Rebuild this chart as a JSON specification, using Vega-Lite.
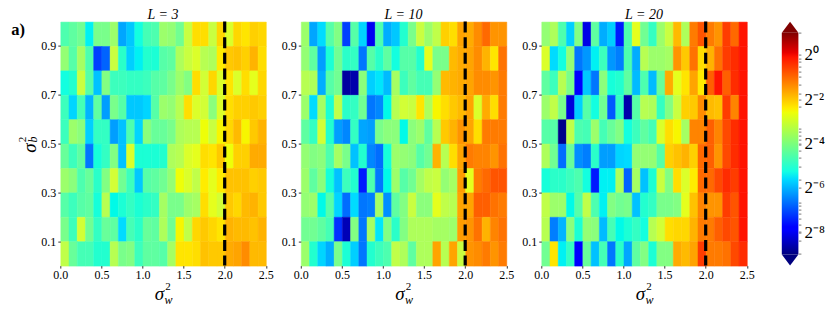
{"$schema":"https://vega.github.io/schema/vega-lite/v6.json","bounds":"flush","spacing":34.5,"padding":{"left":10.3,"top":7.6,"right":40,"bottom":0},"background":"white","config":{"view":{"stroke":null},"font":"Liberation Serif","axis":{"labelFont":"Liberation Serif","titleFont":"Liberation Serif","labelFontSize":12,"labelColor":"#000","tickColor":"#333","tickSize":2.5,"grid":false,"domain":false,"labelFlush":false,"titleFontSize":19,"titleFontStyle":"italic","titleFontWeight":"normal","titleColor":"#000"},"title":{"font":"Liberation Serif","fontSize":14,"fontWeight":"normal","fontStyle":"italic","color":"#000","offset":-2}},"datasets":{"l3":[
{"sw":0.05,"sb":0.95,"v":-4.4},{"sw":0.15,"sb":0.95,"v":-4.2},{"sw":0.25,"sb":0.95,"v":-4},{"sw":0.35,"sb":0.95,"v":-5.4},{"sw":0.45,"sb":0.95,"v":-3.9},{"sw":0.55,"sb":0.95,"v":-3.9},{"sw":0.65,"sb":0.95,"v":-3.5},{"sw":0.75,"sb":0.95,"v":-6.4},{"sw":0.85,"sb":0.95,"v":-5.9},{"sw":0.95,"sb":0.95,"v":-5.2},{"sw":1.05,"sb":0.95,"v":-4.5},{"sw":1.15,"sb":0.95,"v":-4.4},{"sw":1.25,"sb":0.95,"v":-3.5},{"sw":1.35,"sb":0.95,"v":-3.6},{"sw":1.45,"sb":0.95,"v":-4},{"sw":1.55,"sb":0.95,"v":-3},{"sw":1.65,"sb":0.95,"v":-2.2},{"sw":1.75,"sb":0.95,"v":-2.2},{"sw":1.85,"sb":0.95,"v":-3},{"sw":1.95,"sb":0.95,"v":-2.1},{"sw":2.05,"sb":0.95,"v":-2.8},{"sw":2.15,"sb":0.95,"v":-2.1},{"sw":2.25,"sb":0.95,"v":-2.3},{"sw":2.35,"sb":0.95,"v":-2},{"sw":2.45,"sb":0.95,"v":-2.1},
{"sw":0.05,"sb":0.85,"v":-3.6},{"sw":0.15,"sb":0.85,"v":-4.3},{"sw":0.25,"sb":0.85,"v":-3.4},{"sw":0.35,"sb":0.85,"v":-4.4},{"sw":0.45,"sb":0.85,"v":-7.5},{"sw":0.55,"sb":0.85,"v":-7.2},{"sw":0.65,"sb":0.85,"v":-3},{"sw":0.75,"sb":0.85,"v":-4.8},{"sw":0.85,"sb":0.85,"v":-5.8},{"sw":0.95,"sb":0.85,"v":-5.4},{"sw":1.05,"sb":0.85,"v":-4.9},{"sw":1.15,"sb":0.85,"v":-5},{"sw":1.25,"sb":0.85,"v":-4.3},{"sw":1.35,"sb":0.85,"v":-4.2},{"sw":1.45,"sb":0.85,"v":-3.3},{"sw":1.55,"sb":0.85,"v":-3},{"sw":1.65,"sb":0.85,"v":-2.8},{"sw":1.75,"sb":0.85,"v":-3.2},{"sw":1.85,"sb":0.85,"v":-3.3},{"sw":1.95,"sb":0.85,"v":-2.4},{"sw":2.05,"sb":0.85,"v":-1.9},{"sw":2.15,"sb":0.85,"v":-1.8},{"sw":2.25,"sb":0.85,"v":-2},{"sw":2.35,"sb":0.85,"v":-1.6},{"sw":2.45,"sb":0.85,"v":-2.2},
{"sw":0.05,"sb":0.75,"v":-5.2},{"sw":0.15,"sb":0.75,"v":-4.9},{"sw":0.25,"sb":0.75,"v":-3},{"sw":0.35,"sb":0.75,"v":-4.3},{"sw":0.45,"sb":0.75,"v":-6},{"sw":0.55,"sb":0.75,"v":-3.8},{"sw":0.65,"sb":0.75,"v":-4.6},{"sw":0.75,"sb":0.75,"v":-4.6},{"sw":0.85,"sb":0.75,"v":-4.7},{"sw":0.95,"sb":0.75,"v":-4.7},{"sw":1.05,"sb":0.75,"v":-4.6},{"sw":1.15,"sb":0.75,"v":-4.3},{"sw":1.25,"sb":0.75,"v":-4.2},{"sw":1.35,"sb":0.75,"v":-3.9},{"sw":1.45,"sb":0.75,"v":-3.5},{"sw":1.55,"sb":0.75,"v":-3.8},{"sw":1.65,"sb":0.75,"v":-2.2},{"sw":1.75,"sb":0.75,"v":-2.9},{"sw":1.85,"sb":0.75,"v":-2.1},{"sw":1.95,"sb":0.75,"v":-2.8},{"sw":2.05,"sb":0.75,"v":-2.3},{"sw":2.15,"sb":0.75,"v":-2.8},{"sw":2.25,"sb":0.75,"v":-2.2},{"sw":2.35,"sb":0.75,"v":-2.7},{"sw":2.45,"sb":0.75,"v":-2.1},
{"sw":0.05,"sb":0.65,"v":-4.6},{"sw":0.15,"sb":0.65,"v":-5.7},{"sw":0.25,"sb":0.65,"v":-4.5},{"sw":0.35,"sb":0.65,"v":-6.2},{"sw":0.45,"sb":0.65,"v":-4.2},{"sw":0.55,"sb":0.65,"v":-6.5},{"sw":0.65,"sb":0.65,"v":-3.9},{"sw":0.75,"sb":0.65,"v":-4.3},{"sw":0.85,"sb":0.65,"v":-5.9},{"sw":0.95,"sb":0.65,"v":-5.9},{"sw":1.05,"sb":0.65,"v":-5.7},{"sw":1.15,"sb":0.65,"v":-4.3},{"sw":1.25,"sb":0.65,"v":-3.5},{"sw":1.35,"sb":0.65,"v":-3.6},{"sw":1.45,"sb":0.65,"v":-3.2},{"sw":1.55,"sb":0.65,"v":-2.2},{"sw":1.65,"sb":0.65,"v":-2.8},{"sw":1.75,"sb":0.65,"v":-2.9},{"sw":1.85,"sb":0.65,"v":-3.7},{"sw":1.95,"sb":0.65,"v":-2.8},{"sw":2.05,"sb":0.65,"v":-2.2},{"sw":2.15,"sb":0.65,"v":-2},{"sw":2.25,"sb":0.65,"v":-2},{"sw":2.35,"sb":0.65,"v":-1.9},{"sw":2.45,"sb":0.65,"v":-2},
{"sw":0.05,"sb":0.55,"v":-4.6},{"sw":0.15,"sb":0.55,"v":-3.5},{"sw":0.25,"sb":0.55,"v":-3.7},{"sw":0.35,"sb":0.55,"v":-5.8},{"sw":0.45,"sb":0.55,"v":-4.7},{"sw":0.55,"sb":0.55,"v":-4.7},{"sw":0.65,"sb":0.55,"v":-6.5},{"sw":0.75,"sb":0.55,"v":-6},{"sw":0.85,"sb":0.55,"v":-4.4},{"sw":0.95,"sb":0.55,"v":-5.7},{"sw":1.05,"sb":0.55,"v":-3.7},{"sw":1.15,"sb":0.55,"v":-4.1},{"sw":1.25,"sb":0.55,"v":-4.1},{"sw":1.35,"sb":0.55,"v":-3.9},{"sw":1.45,"sb":0.55,"v":-3.3},{"sw":1.55,"sb":0.55,"v":-3.2},{"sw":1.65,"sb":0.55,"v":-3.2},{"sw":1.75,"sb":0.55,"v":-2.6},{"sw":1.85,"sb":0.55,"v":-3},{"sw":1.95,"sb":0.55,"v":-2.5},{"sw":2.05,"sb":0.55,"v":-2.1},{"sw":2.15,"sb":0.55,"v":-1.7},{"sw":2.25,"sb":0.55,"v":-2.5},{"sw":2.35,"sb":0.55,"v":-1.9},{"sw":2.45,"sb":0.55,"v":-1.6},
{"sw":0.05,"sb":0.45,"v":-4.1},{"sw":0.15,"sb":0.45,"v":-4.6},{"sw":0.25,"sb":0.45,"v":-4.2},{"sw":0.35,"sb":0.45,"v":-7},{"sw":0.45,"sb":0.45,"v":-5.1},{"sw":0.55,"sb":0.45,"v":-4.7},{"sw":0.65,"sb":0.45,"v":-3.8},{"sw":0.75,"sb":0.45,"v":-6},{"sw":0.85,"sb":0.45,"v":-2.8},{"sw":0.95,"sb":0.45,"v":-5},{"sw":1.05,"sb":0.45,"v":-5},{"sw":1.15,"sb":0.45,"v":-5},{"sw":1.25,"sb":0.45,"v":-4.9},{"sw":1.35,"sb":0.45,"v":-3.3},{"sw":1.45,"sb":0.45,"v":-3.2},{"sw":1.55,"sb":0.45,"v":-2.8},{"sw":1.65,"sb":0.45,"v":-2.7},{"sw":1.75,"sb":0.45,"v":-2.2},{"sw":1.85,"sb":0.45,"v":-2.3},{"sw":1.95,"sb":0.45,"v":-1.9},{"sw":2.05,"sb":0.45,"v":-2.6},{"sw":2.15,"sb":0.45,"v":-2},{"sw":2.25,"sb":0.45,"v":-2},{"sw":2.35,"sb":0.45,"v":-1.5},{"sw":2.45,"sb":0.45,"v":-1.5},
{"sw":0.05,"sb":0.35,"v":-3.5},{"sw":0.15,"sb":0.35,"v":-3.7},{"sw":0.25,"sb":0.35,"v":-4.4},{"sw":0.35,"sb":0.35,"v":-4.1},{"sw":0.45,"sb":0.35,"v":-4.8},{"sw":0.55,"sb":0.35,"v":-3.8},{"sw":0.65,"sb":0.35,"v":-2.9},{"sw":0.75,"sb":0.35,"v":-4},{"sw":0.85,"sb":0.35,"v":-4.6},{"sw":0.95,"sb":0.35,"v":-5.9},{"sw":1.05,"sb":0.35,"v":-4.3},{"sw":1.15,"sb":0.35,"v":-4.2},{"sw":1.25,"sb":0.35,"v":-4},{"sw":1.35,"sb":0.35,"v":-3.6},{"sw":1.45,"sb":0.35,"v":-2.6},{"sw":1.55,"sb":0.35,"v":-2.8},{"sw":1.65,"sb":0.35,"v":-3.1},{"sw":1.75,"sb":0.35,"v":-2.4},{"sw":1.85,"sb":0.35,"v":-2.7},{"sw":1.95,"sb":0.35,"v":-2.4},{"sw":2.05,"sb":0.35,"v":-1.8},{"sw":2.15,"sb":0.35,"v":-1.8},{"sw":2.25,"sb":0.35,"v":-1.8},{"sw":2.35,"sb":0.35,"v":-2},{"sw":2.45,"sb":0.35,"v":-1.9},
{"sw":0.05,"sb":0.25,"v":-4.3},{"sw":0.15,"sb":0.25,"v":-4.6},{"sw":0.25,"sb":0.25,"v":-4.3},{"sw":0.35,"sb":0.25,"v":-4.2},{"sw":0.45,"sb":0.25,"v":-5.1},{"sw":0.55,"sb":0.25,"v":-3.2},{"sw":0.65,"sb":0.25,"v":-5.3},{"sw":0.75,"sb":0.25,"v":-5},{"sw":0.85,"sb":0.25,"v":-4.7},{"sw":0.95,"sb":0.25,"v":-5},{"sw":1.05,"sb":0.25,"v":-4.8},{"sw":1.15,"sb":0.25,"v":-4.7},{"sw":1.25,"sb":0.25,"v":-3.4},{"sw":1.35,"sb":0.25,"v":-3.9},{"sw":1.45,"sb":0.25,"v":-3.9},{"sw":1.55,"sb":0.25,"v":-3.5},{"sw":1.65,"sb":0.25,"v":-3.4},{"sw":1.75,"sb":0.25,"v":-2.2},{"sw":1.85,"sb":0.25,"v":-2.7},{"sw":1.95,"sb":0.25,"v":-2.9},{"sw":2.05,"sb":0.25,"v":-1.9},{"sw":2.15,"sb":0.25,"v":-2.1},{"sw":2.25,"sb":0.25,"v":-1.7},{"sw":2.35,"sb":0.25,"v":-1.6},{"sw":2.45,"sb":0.25,"v":-1.9},
{"sw":0.05,"sb":0.15,"v":-3.9},{"sw":0.15,"sb":0.15,"v":-4.6},{"sw":0.25,"sb":0.15,"v":-2.9},{"sw":0.35,"sb":0.15,"v":-4},{"sw":0.45,"sb":0.15,"v":-4.7},{"sw":0.55,"sb":0.15,"v":-4.1},{"sw":0.65,"sb":0.15,"v":-4.2},{"sw":0.75,"sb":0.15,"v":-5.6},{"sw":0.85,"sb":0.15,"v":-4.5},{"sw":0.95,"sb":0.15,"v":-4.8},{"sw":1.05,"sb":0.15,"v":-4.1},{"sw":1.15,"sb":0.15,"v":-4.2},{"sw":1.25,"sb":0.15,"v":-3.3},{"sw":1.35,"sb":0.15,"v":-4},{"sw":1.45,"sb":0.15,"v":-2.5},{"sw":1.55,"sb":0.15,"v":-3.1},{"sw":1.65,"sb":0.15,"v":-2.1},{"sw":1.75,"sb":0.15,"v":-1.9},{"sw":1.85,"sb":0.15,"v":-2.1},{"sw":1.95,"sb":0.15,"v":-2.3},{"sw":2.05,"sb":0.15,"v":-1.6},{"sw":2.15,"sb":0.15,"v":-1.7},{"sw":2.25,"sb":0.15,"v":-1.7},{"sw":2.35,"sb":0.15,"v":-1.8},{"sw":2.45,"sb":0.15,"v":-1.6},
{"sw":0.05,"sb":0.05,"v":-3.1},{"sw":0.15,"sb":0.05,"v":-4.1},{"sw":0.25,"sb":0.05,"v":-4.5},{"sw":0.35,"sb":0.05,"v":-4.5},{"sw":0.45,"sb":0.05,"v":-4.9},{"sw":0.55,"sb":0.05,"v":-4.9},{"sw":0.65,"sb":0.05,"v":-3.2},{"sw":0.75,"sb":0.05,"v":-3.9},{"sw":0.85,"sb":0.05,"v":-3.8},{"sw":0.95,"sb":0.05,"v":-4.6},{"sw":1.05,"sb":0.05,"v":-4.2},{"sw":1.15,"sb":0.05,"v":-4.2},{"sw":1.25,"sb":0.05,"v":-4.3},{"sw":1.35,"sb":0.05,"v":-3.4},{"sw":1.45,"sb":0.05,"v":-2.3},{"sw":1.55,"sb":0.05,"v":-2.3},{"sw":1.65,"sb":0.05,"v":-2.2},{"sw":1.75,"sb":0.05,"v":-1.8},{"sw":1.85,"sb":0.05,"v":-1.9},{"sw":1.95,"sb":0.05,"v":-1.9},{"sw":2.05,"sb":0.05,"v":-1.5},{"sw":2.15,"sb":0.05,"v":-1.4},{"sw":2.25,"sb":0.05,"v":-1.1},{"sw":2.35,"sb":0.05,"v":-1.7},{"sw":2.45,"sb":0.05,"v":-1.7}
],"l10":[
{"sw":0.05,"sb":0.95,"v":-3.5},{"sw":0.15,"sb":0.95,"v":-6.4},{"sw":0.25,"sb":0.95,"v":-5.6},{"sw":0.35,"sb":0.95,"v":-4.3},{"sw":0.45,"sb":0.95,"v":-3.8},{"sw":0.55,"sb":0.95,"v":-7.5},{"sw":0.65,"sb":0.95,"v":-4.3},{"sw":0.75,"sb":0.95,"v":-5.7},{"sw":0.85,"sb":0.95,"v":-8},{"sw":0.95,"sb":0.95,"v":-4.4},{"sw":1.05,"sb":0.95,"v":-6.3},{"sw":1.15,"sb":0.95,"v":-5.9},{"sw":1.25,"sb":0.95,"v":-4.9},{"sw":1.35,"sb":0.95,"v":-3.9},{"sw":1.45,"sb":0.95,"v":-3},{"sw":1.55,"sb":0.95,"v":-3.5},{"sw":1.65,"sb":0.95,"v":-3.1},{"sw":1.75,"sb":0.95,"v":-2},{"sw":1.85,"sb":0.95,"v":-2.2},{"sw":1.95,"sb":0.95,"v":-1.4},{"sw":2.05,"sb":0.95,"v":-1.5},{"sw":2.15,"sb":0.95,"v":-1.1},{"sw":2.25,"sb":0.95,"v":-0.7},{"sw":2.35,"sb":0.95,"v":-1.2},{"sw":2.45,"sb":0.95,"v":-1.2},
{"sw":0.05,"sb":0.85,"v":-3.6},{"sw":0.15,"sb":0.85,"v":-4.2},{"sw":0.25,"sb":0.85,"v":-6.5},{"sw":0.35,"sb":0.85,"v":-5},{"sw":0.45,"sb":0.85,"v":-4},{"sw":0.55,"sb":0.85,"v":-4.8},{"sw":0.65,"sb":0.85,"v":-4.7},{"sw":0.75,"sb":0.85,"v":-7},{"sw":0.85,"sb":0.85,"v":-4.3},{"sw":0.95,"sb":0.85,"v":-4.8},{"sw":1.05,"sb":0.85,"v":-4.2},{"sw":1.15,"sb":0.85,"v":-5.2},{"sw":1.25,"sb":0.85,"v":-4.3},{"sw":1.35,"sb":0.85,"v":-4.3},{"sw":1.45,"sb":0.85,"v":-4.9},{"sw":1.55,"sb":0.85,"v":-2.7},{"sw":1.65,"sb":0.85,"v":-3.9},{"sw":1.75,"sb":0.85,"v":-3.9},{"sw":1.85,"sb":0.85,"v":-1.7},{"sw":1.95,"sb":0.85,"v":-1.5},{"sw":2.05,"sb":0.85,"v":-1.4},{"sw":2.15,"sb":0.85,"v":-1.1},{"sw":2.25,"sb":0.85,"v":-1.6},{"sw":2.35,"sb":0.85,"v":-2.3},{"sw":2.45,"sb":0.85,"v":-0.8},
{"sw":0.05,"sb":0.75,"v":-3.2},{"sw":0.15,"sb":0.75,"v":-3.3},{"sw":0.25,"sb":0.75,"v":-6.3},{"sw":0.35,"sb":0.75,"v":-4.3},{"sw":0.45,"sb":0.75,"v":-4},{"sw":0.55,"sb":0.75,"v":-8.7},{"sw":0.65,"sb":0.75,"v":-8.6},{"sw":0.75,"sb":0.75,"v":-3.7},{"sw":0.85,"sb":0.75,"v":-5.8},{"sw":0.95,"sb":0.75,"v":-5.5},{"sw":1.05,"sb":0.75,"v":-6.1},{"sw":1.15,"sb":0.75,"v":-3.4},{"sw":1.25,"sb":0.75,"v":-4.6},{"sw":1.35,"sb":0.75,"v":-4.2},{"sw":1.45,"sb":0.75,"v":-4.5},{"sw":1.55,"sb":0.75,"v":-4.5},{"sw":1.65,"sb":0.75,"v":-3.6},{"sw":1.75,"sb":0.75,"v":-1.7},{"sw":1.85,"sb":0.75,"v":-1.6},{"sw":1.95,"sb":0.75,"v":-1.5},{"sw":2.05,"sb":0.75,"v":-1.4},{"sw":2.15,"sb":0.75,"v":-1.1},{"sw":2.25,"sb":0.75,"v":-1.1},{"sw":2.35,"sb":0.75,"v":-1.2},{"sw":2.45,"sb":0.75,"v":-0.9},
{"sw":0.05,"sb":0.65,"v":-3.5},{"sw":0.15,"sb":0.65,"v":-5.6},{"sw":0.25,"sb":0.65,"v":-3.4},{"sw":0.35,"sb":0.65,"v":-5},{"sw":0.45,"sb":0.65,"v":-3.1},{"sw":0.55,"sb":0.65,"v":-4.8},{"sw":0.65,"sb":0.65,"v":-4.7},{"sw":0.75,"sb":0.65,"v":-4},{"sw":0.85,"sb":0.65,"v":-7},{"sw":0.95,"sb":0.65,"v":-6.8},{"sw":1.05,"sb":0.65,"v":-5.3},{"sw":1.15,"sb":0.65,"v":-3.2},{"sw":1.25,"sb":0.65,"v":-2.9},{"sw":1.35,"sb":0.65,"v":-3},{"sw":1.45,"sb":0.65,"v":-2.3},{"sw":1.55,"sb":0.65,"v":-3.3},{"sw":1.65,"sb":0.65,"v":-2.5},{"sw":1.75,"sb":0.65,"v":-2.2},{"sw":1.85,"sb":0.65,"v":-1.9},{"sw":1.95,"sb":0.65,"v":-1.7},{"sw":2.05,"sb":0.65,"v":-1.4},{"sw":2.15,"sb":0.65,"v":-2.8},{"sw":2.25,"sb":0.65,"v":-1.5},{"sw":2.35,"sb":0.65,"v":-2.2},{"sw":2.45,"sb":0.65,"v":-0.9},
{"sw":0.05,"sb":0.55,"v":-4.2},{"sw":0.15,"sb":0.55,"v":-4.7},{"sw":0.25,"sb":0.55,"v":-2.9},{"sw":0.35,"sb":0.55,"v":-4.9},{"sw":0.45,"sb":0.55,"v":-6.5},{"sw":0.55,"sb":0.55,"v":-6.8},{"sw":0.65,"sb":0.55,"v":-4.7},{"sw":0.75,"sb":0.55,"v":-6.4},{"sw":0.85,"sb":0.55,"v":-6.5},{"sw":0.95,"sb":0.55,"v":-3.9},{"sw":1.05,"sb":0.55,"v":-3.7},{"sw":1.15,"sb":0.55,"v":-3.7},{"sw":1.25,"sb":0.55,"v":-5.3},{"sw":1.35,"sb":0.55,"v":-3.7},{"sw":1.45,"sb":0.55,"v":-3.5},{"sw":1.55,"sb":0.55,"v":-4.2},{"sw":1.65,"sb":0.55,"v":-3.2},{"sw":1.75,"sb":0.55,"v":-1.9},{"sw":1.85,"sb":0.55,"v":-1.6},{"sw":1.95,"sb":0.55,"v":-1.2},{"sw":2.05,"sb":0.55,"v":-1.4},{"sw":2.15,"sb":0.55,"v":-2.2},{"sw":2.25,"sb":0.55,"v":-0.9},{"sw":2.35,"sb":0.55,"v":-0.9},{"sw":2.45,"sb":0.55,"v":-0.9},
{"sw":0.05,"sb":0.45,"v":-3.6},{"sw":0.15,"sb":0.45,"v":-3.8},{"sw":0.25,"sb":0.45,"v":-3.7},{"sw":0.35,"sb":0.45,"v":-4.4},{"sw":0.45,"sb":0.45,"v":-3.4},{"sw":0.55,"sb":0.45,"v":-3.9},{"sw":0.65,"sb":0.45,"v":-6},{"sw":0.75,"sb":0.45,"v":-4.9},{"sw":0.85,"sb":0.45,"v":-6.8},{"sw":0.95,"sb":0.45,"v":-7.1},{"sw":1.05,"sb":0.45,"v":-5.1},{"sw":1.15,"sb":0.45,"v":-3.5},{"sw":1.25,"sb":0.45,"v":-3.6},{"sw":1.35,"sb":0.45,"v":-3.7},{"sw":1.45,"sb":0.45,"v":-4.3},{"sw":1.55,"sb":0.45,"v":-4},{"sw":1.65,"sb":0.45,"v":-1.6},{"sw":1.75,"sb":0.45,"v":-3.2},{"sw":1.85,"sb":0.45,"v":-2.2},{"sw":1.95,"sb":0.45,"v":-1.4},{"sw":2.05,"sb":0.45,"v":-0.9},{"sw":2.15,"sb":0.45,"v":-1},{"sw":2.25,"sb":0.45,"v":-1},{"sw":2.35,"sb":0.45,"v":-1.2},{"sw":2.45,"sb":0.45,"v":-0.8},
{"sw":0.05,"sb":0.35,"v":-3.5},{"sw":0.15,"sb":0.35,"v":-4.2},{"sw":0.25,"sb":0.35,"v":-3.7},{"sw":0.35,"sb":0.35,"v":-5.1},{"sw":0.45,"sb":0.35,"v":-6},{"sw":0.55,"sb":0.35,"v":-4.6},{"sw":0.65,"sb":0.35,"v":-4.9},{"sw":0.75,"sb":0.35,"v":-7.7},{"sw":0.85,"sb":0.35,"v":-4.4},{"sw":0.95,"sb":0.35,"v":-7},{"sw":1.05,"sb":0.35,"v":-5.3},{"sw":1.15,"sb":0.35,"v":-3.5},{"sw":1.25,"sb":0.35,"v":-4.3},{"sw":1.35,"sb":0.35,"v":-4},{"sw":1.45,"sb":0.35,"v":-3.4},{"sw":1.55,"sb":0.35,"v":-3.1},{"sw":1.65,"sb":0.35,"v":-3},{"sw":1.75,"sb":0.35,"v":-3.6},{"sw":1.85,"sb":0.35,"v":-3.4},{"sw":1.95,"sb":0.35,"v":-1.3},{"sw":2.05,"sb":0.35,"v":-2.7},{"sw":2.15,"sb":0.35,"v":-0.9},{"sw":2.25,"sb":0.35,"v":-0.7},{"sw":2.35,"sb":0.35,"v":-0.5},{"sw":2.45,"sb":0.35,"v":-0.5},
{"sw":0.05,"sb":0.25,"v":-3.6},{"sw":0.15,"sb":0.25,"v":-3.5},{"sw":0.25,"sb":0.25,"v":-5.3},{"sw":0.35,"sb":0.25,"v":-4.3},{"sw":0.45,"sb":0.25,"v":-5.7},{"sw":0.55,"sb":0.25,"v":-7.1},{"sw":0.65,"sb":0.25,"v":-5.6},{"sw":0.75,"sb":0.25,"v":-7},{"sw":0.85,"sb":0.25,"v":-6.9},{"sw":0.95,"sb":0.25,"v":-3.4},{"sw":1.05,"sb":0.25,"v":-6.7},{"sw":1.15,"sb":0.25,"v":-4.2},{"sw":1.25,"sb":0.25,"v":-3.8},{"sw":1.35,"sb":0.25,"v":-3},{"sw":1.45,"sb":0.25,"v":-3.7},{"sw":1.55,"sb":0.25,"v":-3.7},{"sw":1.65,"sb":0.25,"v":-2.7},{"sw":1.75,"sb":0.25,"v":-3.1},{"sw":1.85,"sb":0.25,"v":-3.2},{"sw":1.95,"sb":0.25,"v":-1.4},{"sw":2.05,"sb":0.25,"v":-1.4},{"sw":2.15,"sb":0.25,"v":-0.6},{"sw":2.25,"sb":0.25,"v":-0.6},{"sw":2.35,"sb":0.25,"v":-0.8},{"sw":2.45,"sb":0.25,"v":-0.9},
{"sw":0.05,"sb":0.15,"v":-4},{"sw":0.15,"sb":0.15,"v":-4},{"sw":0.25,"sb":0.15,"v":-4.2},{"sw":0.35,"sb":0.15,"v":-4.5},{"sw":0.45,"sb":0.15,"v":-7.6},{"sw":0.55,"sb":0.15,"v":-8.5},{"sw":0.65,"sb":0.15,"v":-3.8},{"sw":0.75,"sb":0.15,"v":-7},{"sw":0.85,"sb":0.15,"v":-3.4},{"sw":0.95,"sb":0.15,"v":-5.5},{"sw":1.05,"sb":0.15,"v":-3.8},{"sw":1.15,"sb":0.15,"v":-4.8},{"sw":1.25,"sb":0.15,"v":-3.8},{"sw":1.35,"sb":0.15,"v":-3.3},{"sw":1.45,"sb":0.15,"v":-3.3},{"sw":1.55,"sb":0.15,"v":-3.3},{"sw":1.65,"sb":0.15,"v":-3.4},{"sw":1.75,"sb":0.15,"v":-3.4},{"sw":1.85,"sb":0.15,"v":-3.5},{"sw":1.95,"sb":0.15,"v":-1.3},{"sw":2.05,"sb":0.15,"v":-1.2},{"sw":2.15,"sb":0.15,"v":-0.8},{"sw":2.25,"sb":0.15,"v":-1.6},{"sw":2.35,"sb":0.15,"v":-1},{"sw":2.45,"sb":0.15,"v":-0.8},
{"sw":0.05,"sb":0.05,"v":-3.5},{"sw":0.15,"sb":0.05,"v":-4.9},{"sw":0.25,"sb":0.05,"v":-5.7},{"sw":0.35,"sb":0.05,"v":-6.3},{"sw":0.45,"sb":0.05,"v":-3.9},{"sw":0.55,"sb":0.05,"v":-5},{"sw":0.65,"sb":0.05,"v":-5.8},{"sw":0.75,"sb":0.05,"v":-7},{"sw":0.85,"sb":0.05,"v":-4.9},{"sw":0.95,"sb":0.05,"v":-4.6},{"sw":1.05,"sb":0.05,"v":-4.4},{"sw":1.15,"sb":0.05,"v":-3.1},{"sw":1.25,"sb":0.05,"v":-3.3},{"sw":1.35,"sb":0.05,"v":-4.2},{"sw":1.45,"sb":0.05,"v":-3.3},{"sw":1.55,"sb":0.05,"v":-3.3},{"sw":1.65,"sb":0.05,"v":-1.4},{"sw":1.75,"sb":0.05,"v":-3.2},{"sw":1.85,"sb":0.05,"v":-1.4},{"sw":1.95,"sb":0.05,"v":-3},{"sw":2.05,"sb":0.05,"v":-1.2},{"sw":2.15,"sb":0.05,"v":-1.1},{"sw":2.25,"sb":0.05,"v":-0.9},{"sw":2.35,"sb":0.05,"v":-1.2},{"sw":2.45,"sb":0.05,"v":-0.9}
],"l20":[
{"sw":0.05,"sb":0.95,"v":-3.6},{"sw":0.15,"sb":0.95,"v":-3.3},{"sw":0.25,"sb":0.95,"v":-4.4},{"sw":0.35,"sb":0.95,"v":-5.8},{"sw":0.45,"sb":0.95,"v":-3.8},{"sw":0.55,"sb":0.95,"v":-8.1},{"sw":0.65,"sb":0.95,"v":-4.2},{"sw":0.75,"sb":0.95,"v":-6.3},{"sw":0.85,"sb":0.95,"v":-5.8},{"sw":0.95,"sb":0.95,"v":-7.7},{"sw":1.05,"sb":0.95,"v":-4.4},{"sw":1.15,"sb":0.95,"v":-2.7},{"sw":1.25,"sb":0.95,"v":-4},{"sw":1.35,"sb":0.95,"v":-4.7},{"sw":1.45,"sb":0.95,"v":-3.5},{"sw":1.55,"sb":0.95,"v":-3},{"sw":1.65,"sb":0.95,"v":-1.7},{"sw":1.75,"sb":0.95,"v":-3.3},{"sw":1.85,"sb":0.95,"v":-0.9},{"sw":1.95,"sb":0.95,"v":-0.5},{"sw":2.05,"sb":0.95,"v":-0.9},{"sw":2.15,"sb":0.95,"v":-1.2},{"sw":2.25,"sb":0.95,"v":-0.3},{"sw":2.35,"sb":0.95,"v":-0.7},{"sw":2.45,"sb":0.95,"v":-0.1},
{"sw":0.05,"sb":0.85,"v":-2.8},{"sw":0.15,"sb":0.85,"v":-5.6},{"sw":0.25,"sb":0.85,"v":-5.2},{"sw":0.35,"sb":0.85,"v":-3.6},{"sw":0.45,"sb":0.85,"v":-7},{"sw":0.55,"sb":0.85,"v":-6.6},{"sw":0.65,"sb":0.85,"v":-5.4},{"sw":0.75,"sb":0.85,"v":-4.6},{"sw":0.85,"sb":0.85,"v":-6.6},{"sw":0.95,"sb":0.85,"v":-6.9},{"sw":1.05,"sb":0.85,"v":-4.4},{"sw":1.15,"sb":0.85,"v":-6.3},{"sw":1.25,"sb":0.85,"v":-3.2},{"sw":1.35,"sb":0.85,"v":-3.5},{"sw":1.45,"sb":0.85,"v":-3.5},{"sw":1.55,"sb":0.85,"v":-3.4},{"sw":1.65,"sb":0.85,"v":-1.2},{"sw":1.75,"sb":0.85,"v":-1.9},{"sw":1.85,"sb":0.85,"v":-0.8},{"sw":1.95,"sb":0.85,"v":-2.2},{"sw":2.05,"sb":0.85,"v":-1.6},{"sw":2.15,"sb":0.85,"v":-0.8},{"sw":2.25,"sb":0.85,"v":-0.3},{"sw":2.35,"sb":0.85,"v":-0.2},{"sw":2.45,"sb":0.85,"v":-0.1},
{"sw":0.05,"sb":0.75,"v":-4.2},{"sw":0.15,"sb":0.75,"v":-4.6},{"sw":0.25,"sb":0.75,"v":-3.2},{"sw":0.35,"sb":0.75,"v":-3.9},{"sw":0.45,"sb":0.75,"v":-7.8},{"sw":0.55,"sb":0.75,"v":-5.9},{"sw":0.65,"sb":0.75,"v":-7},{"sw":0.75,"sb":0.75,"v":-3.7},{"sw":0.85,"sb":0.75,"v":-5.1},{"sw":0.95,"sb":0.75,"v":-4.9},{"sw":1.05,"sb":0.75,"v":-4.2},{"sw":1.15,"sb":0.75,"v":-6.1},{"sw":1.25,"sb":0.75,"v":-4.4},{"sw":1.35,"sb":0.75,"v":-6.1},{"sw":1.45,"sb":0.75,"v":-4.1},{"sw":1.55,"sb":0.75,"v":-1.5},{"sw":1.65,"sb":0.75,"v":-2.7},{"sw":1.75,"sb":0.75,"v":-2.3},{"sw":1.85,"sb":0.75,"v":-1.4},{"sw":1.95,"sb":0.75,"v":-2.4},{"sw":2.05,"sb":0.75,"v":-0.6},{"sw":2.15,"sb":0.75,"v":-0.1},{"sw":2.25,"sb":0.75,"v":-0.6},{"sw":2.35,"sb":0.75,"v":-0.2},{"sw":2.45,"sb":0.75,"v":-0.1},
{"sw":0.05,"sb":0.65,"v":-3.5},{"sw":0.15,"sb":0.65,"v":-3.1},{"sw":0.25,"sb":0.65,"v":-3.9},{"sw":0.35,"sb":0.65,"v":-8.2},{"sw":0.45,"sb":0.65,"v":-5.8},{"sw":0.55,"sb":0.65,"v":-4.3},{"sw":0.65,"sb":0.65,"v":-5.2},{"sw":0.75,"sb":0.65,"v":-4},{"sw":0.85,"sb":0.65,"v":-7.3},{"sw":0.95,"sb":0.65,"v":-4.7},{"sw":1.05,"sb":0.65,"v":-8.6},{"sw":1.15,"sb":0.65,"v":-4.3},{"sw":1.25,"sb":0.65,"v":-3.2},{"sw":1.35,"sb":0.65,"v":-3.3},{"sw":1.45,"sb":0.65,"v":-4.7},{"sw":1.55,"sb":0.65,"v":-3.8},{"sw":1.65,"sb":0.65,"v":-3},{"sw":1.75,"sb":0.65,"v":-2},{"sw":1.85,"sb":0.65,"v":-1.9},{"sw":1.95,"sb":0.65,"v":-1.1},{"sw":2.05,"sb":0.65,"v":-1.7},{"sw":2.15,"sb":0.65,"v":-1.8},{"sw":2.25,"sb":0.65,"v":-0.3},{"sw":2.35,"sb":0.65,"v":-1},{"sw":2.45,"sb":0.65,"v":-0.1},
{"sw":0.05,"sb":0.55,"v":-4.3},{"sw":0.15,"sb":0.55,"v":-4.3},{"sw":0.25,"sb":0.55,"v":-8.9},{"sw":0.35,"sb":0.55,"v":-3.1},{"sw":0.45,"sb":0.55,"v":-4.4},{"sw":0.55,"sb":0.55,"v":-4.5},{"sw":0.65,"sb":0.55,"v":-3.5},{"sw":0.75,"sb":0.55,"v":-4.5},{"sw":0.85,"sb":0.55,"v":-4.1},{"sw":0.95,"sb":0.55,"v":-3.8},{"sw":1.05,"sb":0.55,"v":-5.2},{"sw":1.15,"sb":0.55,"v":-4.6},{"sw":1.25,"sb":0.55,"v":-4.2},{"sw":1.35,"sb":0.55,"v":-4.5},{"sw":1.45,"sb":0.55,"v":-2.8},{"sw":1.55,"sb":0.55,"v":-2.2},{"sw":1.65,"sb":0.55,"v":-2.5},{"sw":1.75,"sb":0.55,"v":-3.4},{"sw":1.85,"sb":0.55,"v":-1},{"sw":1.95,"sb":0.55,"v":-1},{"sw":2.05,"sb":0.55,"v":-0.6},{"sw":2.15,"sb":0.55,"v":-1},{"sw":2.25,"sb":0.55,"v":-0.4},{"sw":2.35,"sb":0.55,"v":-0.2},{"sw":2.45,"sb":0.55,"v":-0.1},
{"sw":0.05,"sb":0.45,"v":-3.3},{"sw":0.15,"sb":0.45,"v":-4},{"sw":0.25,"sb":0.45,"v":-7.1},{"sw":0.35,"sb":0.45,"v":-4.1},{"sw":0.45,"sb":0.45,"v":-6.7},{"sw":0.55,"sb":0.45,"v":-6.9},{"sw":0.65,"sb":0.45,"v":-4.8},{"sw":0.75,"sb":0.45,"v":-6.5},{"sw":0.85,"sb":0.45,"v":-6.5},{"sw":0.95,"sb":0.45,"v":-5.7},{"sw":1.05,"sb":0.45,"v":-5.6},{"sw":1.15,"sb":0.45,"v":-3.6},{"sw":1.25,"sb":0.45,"v":-3.6},{"sw":1.35,"sb":0.45,"v":-3.6},{"sw":1.45,"sb":0.45,"v":-4.3},{"sw":1.55,"sb":0.45,"v":-2},{"sw":1.65,"sb":0.45,"v":-1.8},{"sw":1.75,"sb":0.45,"v":-1.6},{"sw":1.85,"sb":0.45,"v":-2},{"sw":1.95,"sb":0.45,"v":-0.7},{"sw":2.05,"sb":0.45,"v":-0.6},{"sw":2.15,"sb":0.45,"v":-1.2},{"sw":2.25,"sb":0.45,"v":-0.4},{"sw":2.35,"sb":0.45,"v":-0.2},{"sw":2.45,"sb":0.45,"v":-0.1},
{"sw":0.05,"sb":0.35,"v":-5.1},{"sw":0.15,"sb":0.35,"v":-4.8},{"sw":0.25,"sb":0.35,"v":-4.8},{"sw":0.35,"sb":0.35,"v":-4.6},{"sw":0.45,"sb":0.35,"v":-4.4},{"sw":0.55,"sb":0.35,"v":-5.2},{"sw":0.65,"sb":0.35,"v":-7.7},{"sw":0.75,"sb":0.35,"v":-5.4},{"sw":0.85,"sb":0.35,"v":-5.4},{"sw":0.95,"sb":0.35,"v":-3.3},{"sw":1.05,"sb":0.35,"v":-7.2},{"sw":1.15,"sb":0.35,"v":-3.4},{"sw":1.25,"sb":0.35,"v":-6},{"sw":1.35,"sb":0.35,"v":-5},{"sw":1.45,"sb":0.35,"v":-3},{"sw":1.55,"sb":0.35,"v":-3.8},{"sw":1.65,"sb":0.35,"v":-2.2},{"sw":1.75,"sb":0.35,"v":-2.8},{"sw":1.85,"sb":0.35,"v":-2.4},{"sw":1.95,"sb":0.35,"v":-0.7},{"sw":2.05,"sb":0.35,"v":-0.7},{"sw":2.15,"sb":0.35,"v":-0.4},{"sw":2.25,"sb":0.35,"v":-0.2},{"sw":2.35,"sb":0.35,"v":-0.3},{"sw":2.45,"sb":0.35,"v":-0.1},
{"sw":0.05,"sb":0.25,"v":-3.1},{"sw":0.15,"sb":0.25,"v":-3.5},{"sw":0.25,"sb":0.25,"v":-3.5},{"sw":0.35,"sb":0.25,"v":-5.3},{"sw":0.45,"sb":0.25,"v":-4.3},{"sw":0.55,"sb":0.25,"v":-3.1},{"sw":0.65,"sb":0.25,"v":-4.4},{"sw":0.75,"sb":0.25,"v":-5.4},{"sw":0.85,"sb":0.25,"v":-3.8},{"sw":0.95,"sb":0.25,"v":-4},{"sw":1.05,"sb":0.25,"v":-3.9},{"sw":1.15,"sb":0.25,"v":-6},{"sw":1.25,"sb":0.25,"v":-4.9},{"sw":1.35,"sb":0.25,"v":-4.7},{"sw":1.45,"sb":0.25,"v":-3.9},{"sw":1.55,"sb":0.25,"v":-3.9},{"sw":1.65,"sb":0.25,"v":-3.8},{"sw":1.75,"sb":0.25,"v":-2.7},{"sw":1.85,"sb":0.25,"v":-1.8},{"sw":1.95,"sb":0.25,"v":-1},{"sw":2.05,"sb":0.25,"v":-1.2},{"sw":2.15,"sb":0.25,"v":-1.2},{"sw":2.25,"sb":0.25,"v":-0.3},{"sw":2.35,"sb":0.25,"v":-0.5},{"sw":2.45,"sb":0.25,"v":-0.1},
{"sw":0.05,"sb":0.15,"v":-3.2},{"sw":0.15,"sb":0.15,"v":-6.9},{"sw":0.25,"sb":0.15,"v":-6.2},{"sw":0.35,"sb":0.15,"v":-3.7},{"sw":0.45,"sb":0.15,"v":-5},{"sw":0.55,"sb":0.15,"v":-3.6},{"sw":0.65,"sb":0.15,"v":-3.7},{"sw":0.75,"sb":0.15,"v":-6.1},{"sw":0.85,"sb":0.15,"v":-4.5},{"sw":0.95,"sb":0.15,"v":-5.3},{"sw":1.05,"sb":0.15,"v":-5},{"sw":1.15,"sb":0.15,"v":-4.7},{"sw":1.25,"sb":0.15,"v":-5.2},{"sw":1.35,"sb":0.15,"v":-3.2},{"sw":1.45,"sb":0.15,"v":-2.9},{"sw":1.55,"sb":0.15,"v":-2.2},{"sw":1.65,"sb":0.15,"v":-2.1},{"sw":1.75,"sb":0.15,"v":-2.1},{"sw":1.85,"sb":0.15,"v":-1.6},{"sw":1.95,"sb":0.15,"v":-0.9},{"sw":2.05,"sb":0.15,"v":-0.9},{"sw":2.15,"sb":0.15,"v":-0.6},{"sw":2.25,"sb":0.15,"v":-0.4},{"sw":2.35,"sb":0.15,"v":-0.5},{"sw":2.45,"sb":0.15,"v":-0.1},
{"sw":0.05,"sb":0.05,"v":-4},{"sw":0.15,"sb":0.05,"v":-2.3},{"sw":0.25,"sb":0.05,"v":-5.4},{"sw":0.35,"sb":0.05,"v":-4.7},{"sw":0.45,"sb":0.05,"v":-7.9},{"sw":0.55,"sb":0.05,"v":-4.1},{"sw":0.65,"sb":0.05,"v":-6},{"sw":0.75,"sb":0.05,"v":-4.5},{"sw":0.85,"sb":0.05,"v":-7},{"sw":0.95,"sb":0.05,"v":-4.8},{"sw":1.05,"sb":0.05,"v":-6.4},{"sw":1.15,"sb":0.05,"v":-4.2},{"sw":1.25,"sb":0.05,"v":-3.8},{"sw":1.35,"sb":0.05,"v":-5},{"sw":1.45,"sb":0.05,"v":-3.8},{"sw":1.55,"sb":0.05,"v":-3.8},{"sw":1.65,"sb":0.05,"v":-1.5},{"sw":1.75,"sb":0.05,"v":-1.7},{"sw":1.85,"sb":0.05,"v":-1.4},{"sw":1.95,"sb":0.05,"v":-0.3},{"sw":2.05,"sb":0.05,"v":-0.9},{"sw":2.15,"sb":0.05,"v":-0.9},{"sw":2.25,"sb":0.05,"v":-0.8},{"sw":2.35,"sb":0.05,"v":-0.4},{"sw":2.45,"sb":0.05,"v":-0.2}
]},"hconcat":[{"width":205.5,"height":244,"title":"L = 3","layer":[{"data":{"name":"l3"},"mark":{"type":"rect","binSpacing":0,"strokeWidth":0.5},"encoding":{"x":{"bin":{"step":0.1},"field":"sw","type":"quantitative","scale":{"domain":[0,2.5],"nice":false},"axis":{"values":[0,0.5,1,1.5,2,2.5],"format":".1f","title":"σ","labelPadding":1.5,"titlePadding":4,"titleX":98.75}},"y":{"bin":{"step":0.1},"field":"sb","type":"quantitative","scale":{"domain":[0,1],"nice":false},"axis":{"values":[0.1,0.3,0.5,0.7,0.9],"format":".1f","title":"σ","labelPadding":2,"titlePadding":1.5,"titleY":126}},"color":{"field":"v","type":"quantitative","legend":null,"scale":{"domain":[-9,-7.9,-7.75,-5.6,-5.25,-2.6,-2.4,-0.1,0.1,1],"range":["#00007f","#0000ff","#0000ff","#00dbff","#14ffe2","#eeff08","#ffec00","#ff1300","#e80000","#800000"]}},"stroke":{"field":"v","type":"quantitative","legend":null,"scale":{"domain":[-9,-7.9,-7.75,-5.6,-5.25,-2.6,-2.4,-0.1,0.1,1],"range":["#00007f","#0000ff","#0000ff","#00dbff","#14ffe2","#eeff08","#ffec00","#ff1300","#e80000","#800000"]}}}},{"data":{"values":[{"d":2}]},"mark":{"type":"rule","strokeDash":[11,4.6],"strokeWidth":3.2,"color":"#000"},"encoding":{"x":{"field":"d","type":"quantitative"}}},{"data":{"values":[{"t":"w"}]},"mark":{"type":"text","dx":5.5,"dy":34.5,"fontSize":12,"fontStyle":"italic","font":"Liberation Serif"},"encoding":{"x":{"datum":1.25},"y":{"datum":0},"text":{"field":"t"}}},{"data":{"values":[{"t":"2"}]},"mark":{"type":"text","dx":5,"dy":21.5,"fontSize":11,"font":"Liberation Serif"},"encoding":{"x":{"datum":1.25},"y":{"datum":0},"text":{"field":"t"}}},{"data":{"values":[{"t":"b"}]},"mark":{"type":"text","dx":4,"dy":-27.3,"angle":270,"fontSize":12,"fontStyle":"italic","font":"Liberation Serif"},"encoding":{"x":{"datum":0},"y":{"datum":0.5},"text":{"field":"t"}}},{"data":{"values":[{"t":"2"}]},"mark":{"type":"text","dx":4,"dy":-37.3,"angle":270,"fontSize":11,"font":"Liberation Serif"},"encoding":{"x":{"datum":0},"y":{"datum":0.5},"text":{"field":"t"}}},{"data":{"values":[{"t":"a)"}]},"mark":{"type":"text","dx":-42.3,"dy":8.5,"fontSize":16.5,"fontWeight":"bold","font":"Liberation Serif"},"encoding":{"x":{"datum":0},"y":{"datum":1},"text":{"field":"t"}}}]},{"width":205.5,"height":244,"title":"L = 10","layer":[{"data":{"name":"l10"},"mark":{"type":"rect","binSpacing":0,"strokeWidth":0.5},"encoding":{"x":{"bin":{"step":0.1},"field":"sw","type":"quantitative","scale":{"domain":[0,2.5],"nice":false},"axis":{"values":[0,0.5,1,1.5,2,2.5],"format":".1f","title":"σ","labelPadding":1.5,"titlePadding":4,"titleX":98.75}},"y":{"bin":{"step":0.1},"field":"sb","type":"quantitative","scale":{"domain":[0,1],"nice":false},"axis":{"values":[0.1,0.3,0.5,0.7,0.9],"format":".1f","title":null,"labelPadding":2}},"color":{"field":"v","type":"quantitative","legend":null,"scale":{"domain":[-9,-7.9,-7.75,-5.6,-5.25,-2.6,-2.4,-0.1,0.1,1],"range":["#00007f","#0000ff","#0000ff","#00dbff","#14ffe2","#eeff08","#ffec00","#ff1300","#e80000","#800000"]}},"stroke":{"field":"v","type":"quantitative","legend":null,"scale":{"domain":[-9,-7.9,-7.75,-5.6,-5.25,-2.6,-2.4,-0.1,0.1,1],"range":["#00007f","#0000ff","#0000ff","#00dbff","#14ffe2","#eeff08","#ffec00","#ff1300","#e80000","#800000"]}}}},{"data":{"values":[{"d":2}]},"mark":{"type":"rule","strokeDash":[11,4.6],"strokeWidth":3.2,"color":"#000"},"encoding":{"x":{"field":"d","type":"quantitative"}}},{"data":{"values":[{"t":"w"}]},"mark":{"type":"text","dx":5.5,"dy":34.5,"fontSize":12,"fontStyle":"italic","font":"Liberation Serif"},"encoding":{"x":{"datum":1.25},"y":{"datum":0},"text":{"field":"t"}}},{"data":{"values":[{"t":"2"}]},"mark":{"type":"text","dx":5,"dy":21.5,"fontSize":11,"font":"Liberation Serif"},"encoding":{"x":{"datum":1.25},"y":{"datum":0},"text":{"field":"t"}}}]},{"width":205.5,"height":244,"title":"L = 20","layer":[{"data":{"name":"l20"},"mark":{"type":"rect","binSpacing":0,"strokeWidth":0.5},"encoding":{"x":{"bin":{"step":0.1},"field":"sw","type":"quantitative","scale":{"domain":[0,2.5],"nice":false},"axis":{"values":[0,0.5,1,1.5,2,2.5],"format":".1f","title":"σ","labelPadding":1.5,"titlePadding":4,"titleX":98.75}},"y":{"bin":{"step":0.1},"field":"sb","type":"quantitative","scale":{"domain":[0,1],"nice":false},"axis":{"values":[0.1,0.3,0.5,0.7,0.9],"format":".1f","title":null,"labelPadding":2}},"color":{"field":"v","type":"quantitative","legend":null,"scale":{"domain":[-9,-7.9,-7.75,-5.6,-5.25,-2.6,-2.4,-0.1,0.1,1],"range":["#00007f","#0000ff","#0000ff","#00dbff","#14ffe2","#eeff08","#ffec00","#ff1300","#e80000","#800000"]}},"stroke":{"field":"v","type":"quantitative","legend":null,"scale":{"domain":[-9,-7.9,-7.75,-5.6,-5.25,-2.6,-2.4,-0.1,0.1,1],"range":["#00007f","#0000ff","#0000ff","#00dbff","#14ffe2","#eeff08","#ffec00","#ff1300","#e80000","#800000"]}}}},{"data":{"values":[{"d":2}]},"mark":{"type":"rule","strokeDash":[11,4.6],"strokeWidth":3.2,"color":"#000"},"encoding":{"x":{"field":"d","type":"quantitative"}}},{"data":{"values":[{"t":"w"}]},"mark":{"type":"text","dx":5.5,"dy":34.5,"fontSize":12,"fontStyle":"italic","font":"Liberation Serif"},"encoding":{"x":{"datum":1.25},"y":{"datum":0},"text":{"field":"t"}}},{"data":{"values":[{"t":"2"}]},"mark":{"type":"text","dx":5,"dy":21.5,"fontSize":11,"font":"Liberation Serif"},"encoding":{"x":{"datum":1.25},"y":{"datum":0},"text":{"field":"t"}}}]},{"width":16.6,"height":244,"encoding":{"y":{"field":"y","type":"quantitative","scale":{"domain":[-9.5,1.5],"nice":false},"axis":{"orient":"right","title":null,"values":[-8.966,-8.381,-8,-7.966,-7.644,-7.381,-7.158,-6.966,-6.796,-6.644,-6,-5.644,-5.059,-4.644,-4.322,-4.059,-4,-3.837,-3.644,-3.474,-3.322,-2.322,-2,-1.737,-1.322,-1,-0.737,-0.515,-0.322,-0.152,0,1],"labelExpr":"datum.value==0?'2⁰':datum.value==-2?'2⁻²':datum.value==-4?'2⁻⁴':datum.value==-6?'2⁻⁶':datum.value==-8?'2⁻⁸':''","labelFontSize":17,"labelOverlap":false,"labelPadding":3,"tickColor":"#777"}}},"layer":[{"data":{"values":[{"y":-9,"y2":1}]},"mark":{"type":"rect","color":{"gradient":"linear","x1":0,"y1":1,"x2":0,"y2":0,"stops":[{"offset":0,"color":"#00007f"},{"offset":0.11,"color":"#0000ff"},{"offset":0.125,"color":"#0000ff"},{"offset":0.34,"color":"#00dbff"},{"offset":0.375,"color":"#14ffe2"},{"offset":0.64,"color":"#eeff08"},{"offset":0.66,"color":"#ffec00"},{"offset":0.89,"color":"#ff1300"},{"offset":0.91,"color":"#e80000"},{"offset":1,"color":"#800000"}]}},"encoding":{"y2":{"field":"y2"}}},{"data":{"values":[{"m":0.5,"y":1}]},"mark":{"type":"point","filled":true,"shape":"M-1,0L1,0L0,-1.33Z","size":275,"color":"#800000","opacity":1},"encoding":{"x":{"field":"m","type":"quantitative","scale":{"domain":[0,1]},"axis":null}}},{"data":{"values":[{"m":0.5,"y":-9}]},"mark":{"type":"point","filled":true,"shape":"M-1,0L1,0L0,1.33Z","size":275,"color":"#00007f","opacity":1},"encoding":{"x":{"field":"m","type":"quantitative","scale":{"domain":[0,1]},"axis":null}}}]}]}
